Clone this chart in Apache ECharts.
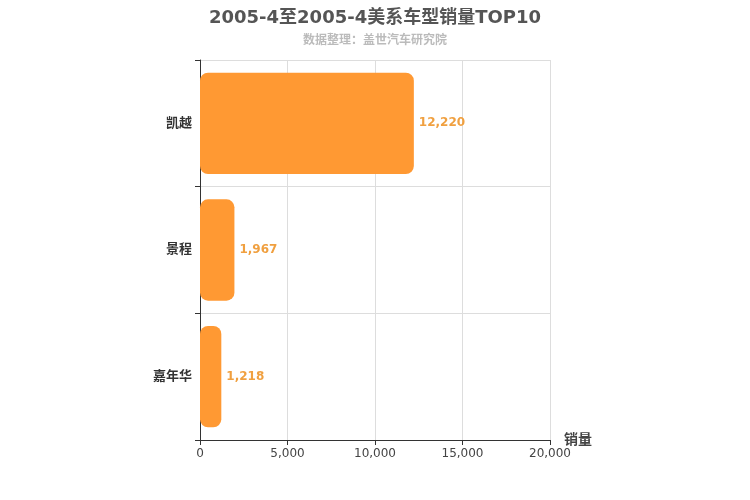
<!DOCTYPE html>
<html><head><meta charset="utf-8">
<script src="https://cdn.jsdelivr.net/npm/echarts@6/dist/echarts.min.js"></script>
<style>html,body{margin:0;padding:0;background:#fff}#c{width:750px;height:500px}</style>
</head><body><div id="c"></div>
<script>
const categories = ['嘉年华', '景程', '凯越'];
const sales = [1218, 1967, 12220];
const xTicks = [0, 5000, 10000, 15000, 20000];
const chart = echarts.init(document.getElementById('c'));
chart.setOption({
  backgroundColor: '#fff',
  textStyle: {fontFamily: '"DejaVu Sans", "Noto Sans CJK SC", sans-serif'},
  title: {
    text: '2005-4至2005-4美系车型销量TOP10',
    subtext: '数据整理：盖世汽车研究院',
    left: 'center', top: 4, itemGap: 8,
    textStyle: {fontSize: 18, fontWeight: 'bold', color: '#555'},
    subtextStyle: {fontSize: 12, fontWeight: 'bold', color: '#bbb'}
  },
  grid: {left: 200, right: 200, top: 60, bottom: 60},
  xAxis: {
    type: 'value', min: xTicks[0], max: xTicks[xTicks.length - 1], interval: 5000,
    name: '销量', nameLocation: 'end', nameGap: 14,
    nameTextStyle: {fontSize: 14, fontWeight: 'bold', color: '#444', verticalAlign: 'middle'},
    axisLine: {show: true, lineStyle: {color: '#333'}},
    axisTick: {show: true, lineStyle: {color: '#333'}},
    axisLabel: {color: '#444', fontSize: 12},
    splitLine: {show: true, lineStyle: {color: '#ddd'}}
  },
  yAxis: {
    type: 'category', data: categories,
    axisLine: {show: true, lineStyle: {color: '#333'}},
    axisTick: {show: true, lineStyle: {color: '#333'}},
    axisLabel: {color: '#333', fontSize: 13, fontWeight: 'bold'},
    splitLine: {show: true, lineStyle: {color: '#ddd'}}
  },
  series: [{
    type: 'bar', data: sales, barWidth: '80%',
    itemStyle: {color: '#ff9933', borderRadius: 8},
    label: {show: true, position: 'right', color: '#f0a040', fontWeight: 'bold', fontSize: 12,
      formatter: p => p.value.toLocaleString('en-US')}
  }]
});
</script></body></html>
